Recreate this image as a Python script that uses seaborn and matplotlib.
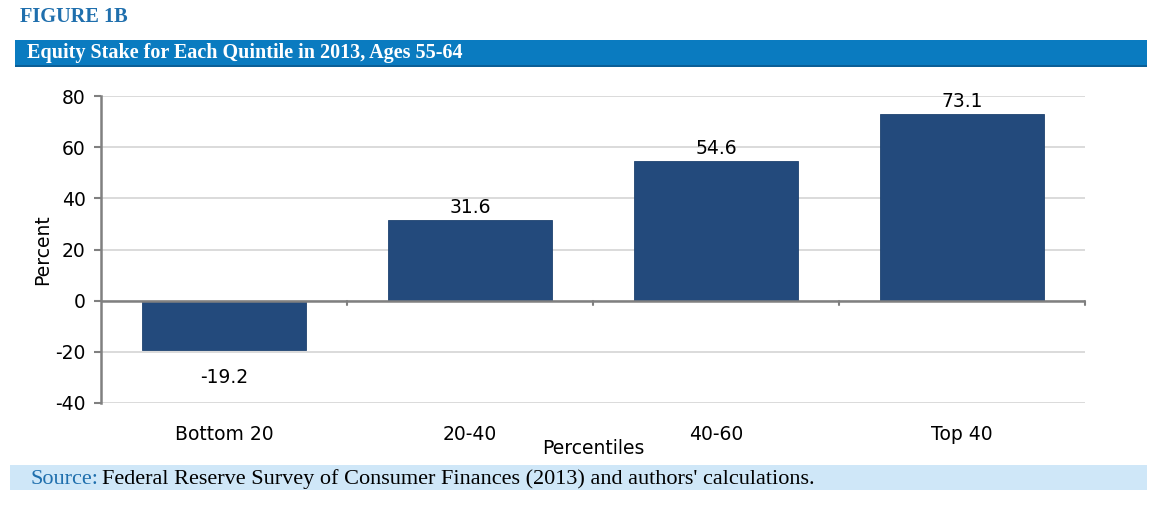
import matplotlib
matplotlib.use("Agg")
import matplotlib.pyplot as plt
import seaborn as sns
import pandas as pd
from matplotlib.patches import Rectangle

categories = ["Bottom 20", "20-40", "40-60", "Top 40"]
values = [-19.2, 31.6, 54.6, 73.1]
yticks = [-40, -20, 0, 20, 40, 60, 80]

sns.set_theme(style="white")
plt.rcParams['font.family'] = ['DejaVu Sans']

W, H = 1171, 509
fig = plt.figure(figsize=(W / 100, H / 100), dpi=100)
ax = fig.add_axes([101 / W, 1 - 403 / H, (1085 - 101) / W, (403 - 96) / H])

df = pd.DataFrame({"cat": categories, "val": values})
sns.barplot(data=df, x="cat", y="val", color="#234a7c", saturation=1, width=0.67, ax=ax, zorder=3)
for p in ax.patches:
    p.set_edgecolor("#1e4270")
    p.set_linewidth(0.6)

ax.set_ylim(-40, 80)
ax.set_xlim(-0.5, 3.5)
ax.set_yticks(yticks)
ax.set_yticklabels([str(t) for t in yticks], fontsize=13.5, color="black")
ax.yaxis.grid(True, color="#d4d4d4", linewidth=1.2, zorder=0)
for s in ["top", "right", "bottom"]:
    ax.spines[s].set_visible(False)
ax.spines["left"].set_color("#808080")
ax.spines["left"].set_linewidth(1.8)
ax.tick_params(axis="y", which="both", left=True, length=5, width=1.5, color="#808080", pad=6)
ax.axhline(0, color="#808080", linewidth=1.8, zorder=4)
# zero-line tick marks at category boundaries
for b in [0.5, 1.5, 2.5, 3.5]:
    ax.plot([b, b], [0, -1.7], color="#808080", linewidth=1.5, zorder=4, clip_on=False)

ax.set_xticks(range(len(categories)))
ax.set_xticklabels(categories, fontsize=13.5, color="black")
ax.tick_params(axis="x", bottom=False, pad=10)
ax.set_xlabel("Percentiles", fontsize=13.5, labelpad=-4, color="black")
ax.set_ylabel("Percent", fontsize=13.5, labelpad=2, color="black")

for i, v in enumerate(values):
    if v >= 0:
        ax.annotate(f"{v:.1f}", (i, v), xytext=(0, 2), textcoords="offset points",
                    ha="center", va="bottom", fontsize=13.5, color="black")
    else:
        ax.annotate(f"{v:.1f}", (i, v), xytext=(0, -13), textcoords="offset points",
                    ha="center", va="top", fontsize=13.5, color="black")

# Header elements
fig.text(20 / W, 1 - 17 / H, "FIGURE 1B", fontsize=14.7, fontweight="bold",
         family="Liberation Serif", color="#1f6fad", va="center", ha="left")
fig.patches.append(Rectangle((15 / W, 1 - 66 / H), (1147 - 15) / W, 26 / H,
                             transform=fig.transFigure, facecolor="#0a7bc0",
                             edgecolor="none", zorder=0))
fig.patches.append(Rectangle((15 / W, 1 - 67 / H), (1147 - 15) / W, 2 / H,
                             transform=fig.transFigure, facecolor="#0b5f97",
                             edgecolor="none", zorder=0))
fig.text(27 / W, 1 - 53 / H, "Equity Stake for Each Quintile in 2013, Ages 55-64",
         fontsize=14.5, fontweight="bold", family="Liberation Serif", color="white",
         va="center", ha="left")

# Source band
fig.patches.append(Rectangle((10 / W, 1 - 490 / H), (1147 - 10) / W, 25 / H,
                             transform=fig.transFigure, facecolor="#cfe7f8",
                             edgecolor="none", zorder=0))
t1 = fig.text(30 / W, 1 - 479 / H, "Source:", fontsize=16, family="Liberation Serif",
              color="#1f6fad", va="center", ha="left")
fig.canvas.draw()
bb = t1.get_window_extent()
fig.text((bb.x1 + 4) / W, 1 - 479 / H,
         "Federal Reserve Survey of Consumer Finances (2013) and authors' calculations.",
         fontsize=16, family="Liberation Serif", color="black", va="center", ha="left")

fig.savefig("out.png", dpi=100)
